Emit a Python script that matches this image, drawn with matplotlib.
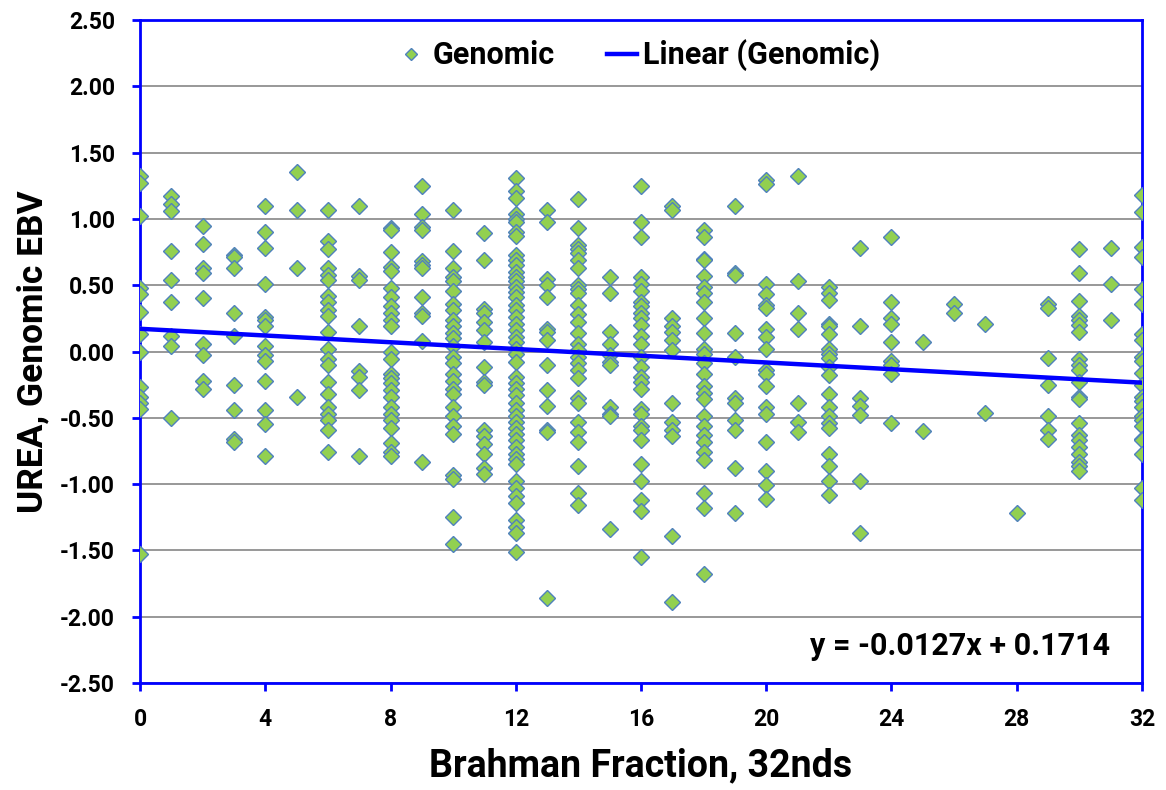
import matplotlib
matplotlib.use('Agg')
import matplotlib.pyplot as plt
import numpy as np

plt.rcParams['font.family'] = ['Roboto', 'DejaVu Sans']
plt.rcParams['font.weight'] = 'bold'
plt.rcParams['axes.unicode_minus'] = False

# Genomic EBV values for each Brahman fraction (32nds)
ebv = {
    0: [1.32, 1.27, 1.02, 0.48, 0.43, 0.30, 0.13, 0.00, -0.27, -0.34, -0.39, -0.43, -1.53],
    1: [1.17, 1.11, 1.06, 0.76, 0.54, 0.37, 0.12, 0.04, -0.50],
    2: [0.95, 0.81, 0.63, 0.59, 0.40, 0.06, -0.03, -0.22, -0.28],
    3: [0.73, 0.71, 0.63, 0.29, 0.12, -0.25, -0.44, -0.66, -0.68],
    4: [1.10, 0.90, 0.78, 0.51, 0.26, 0.24, 0.19, 0.04, -0.03, -0.07, -0.22, -0.44, -0.55, -0.79],
    5: [1.35, 1.07, 0.63, -0.34],
    6: [1.07, 0.83, 0.77, 0.63, 0.58, 0.54, 0.42, 0.37, 0.31, 0.27, 0.15, 0.02, -0.06, -0.10,
        -0.23, -0.32, -0.42, -0.47, -0.52, -0.59, -0.76],
    7: [1.10, 0.57, 0.54, 0.19, -0.15, -0.19, -0.29, -0.79],
    8: [0.93, 0.92, 0.75, 0.64, 0.61, 0.48, 0.41, 0.34, 0.29, 0.24, 0.19, 0.00, -0.06, -0.17,
        -0.20, -0.24, -0.29, -0.34, -0.42, -0.47, -0.52, -0.58, -0.69, -0.76, -0.79],
    9: [1.25, 1.04, 0.94, 0.92, 0.68, 0.65, 0.63, 0.41, 0.29, 0.27, 0.08, -0.83],
    10: [1.07, 0.76, 0.63, 0.56, 0.53, 0.46, 0.36, 0.31, 0.24, 0.19, 0.14, 0.10, 0.04, -0.04,
         -0.09, -0.17, -0.22, -0.28, -0.32, -0.42, -0.49, -0.56, -0.62, -0.93, -0.96, -1.25, -1.45],
    11: [0.89, 0.69, 0.32, 0.29, 0.22, 0.16, 0.07, -0.12, -0.23, -0.25, -0.59, -0.64, -0.70,
         -0.77, -0.88, -0.92],
    12: [1.31, 1.21, 1.16, 1.04, 1.00, 0.98, 0.90, 0.87, 0.73, 0.69, 0.65, 0.60, 0.56, 0.53,
         0.49, 0.45, 0.41, 0.35, 0.31, 0.26, 0.21, 0.16, 0.11, 0.07, 0.02, -0.02, -0.08, -0.19,
         -0.24, -0.28, -0.33, -0.39, -0.44, -0.49, -0.53, -0.58, -0.62, -0.67, -0.72, -0.77,
         -0.81, -0.85, -0.98, -1.03, -1.09, -1.14, -1.27, -1.32, -1.37, -1.51],
    13: [1.07, 0.98, 0.55, 0.50, 0.41, 0.17, 0.15, 0.09, -0.10, -0.29, -0.41, -0.59, -0.61, -1.86],
    14: [1.15, 0.93, 0.80, 0.77, 0.74, 0.69, 0.63, 0.50, 0.47, 0.44, 0.35, 0.28, 0.22, 0.14,
         0.06, 0.01, -0.04, -0.09, -0.14, -0.20, -0.35, -0.39, -0.53, -0.61, -0.68, -0.86,
         -1.07, -1.16],
    15: [0.56, 0.44, 0.15, 0.06, -0.03, -0.08, -0.10, -0.42, -0.47, -0.49, -1.34],
    16: [1.25, 0.98, 0.86, 0.56, 0.51, 0.46, 0.37, 0.34, 0.29, 0.25, 0.20, 0.12, 0.06, -0.04,
         -0.12, -0.19, -0.23, -0.28, -0.43, -0.47, -0.56, -0.59, -0.67, -0.85, -0.98, -1.12,
         -1.20, -1.55],
    17: [1.10, 1.07, 0.25, 0.19, 0.15, 0.09, 0.01, -0.39, -0.53, -0.59, -0.64, -1.39, -1.89],
    18: [0.92, 0.86, 0.70, 0.69, 0.57, 0.49, 0.44, 0.37, 0.25, 0.14, 0.02, -0.02, -0.09, -0.17,
         -0.26, -0.31, -0.36, -0.49, -0.56, -0.63, -0.68, -0.76, -0.82, -1.07, -1.18, -1.68],
    19: [1.10, 0.59, 0.58, 0.14, -0.04, -0.35, -0.39, -0.52, -0.59, -0.88, -1.22],
    20: [1.29, 1.26, 0.51, 0.43, 0.35, 0.33, 0.17, 0.11, 0.02, -0.14, -0.17, -0.26, -0.42,
         -0.47, -0.68, -0.90, -1.01, -1.11],
    21: [1.32, 0.53, 0.29, 0.17, -0.39, -0.53, -0.61],
    22: [0.49, 0.44, 0.39, 0.21, 0.19, 0.13, 0.02, -0.02, -0.05, -0.12, -0.18, -0.32, -0.42,
         -0.49, -0.54, -0.58, -0.77, -0.86, -0.98, -1.08],
    23: [0.78, 0.19, -0.35, -0.41, -0.48, -0.98, -1.37],
    24: [0.86, 0.37, 0.25, 0.21, 0.07, -0.07, -0.10, -0.17, -0.54],
    25: [0.07, -0.60],
    26: [0.36, 0.29],
    27: [0.21, -0.46],
    28: [-1.22],
    29: [0.36, 0.33, -0.05, -0.25, -0.49, -0.59, -0.66],
    30: [0.77, 0.59, 0.38, 0.27, 0.24, 0.20, 0.15, -0.06, -0.10, -0.14, -0.23, -0.34, -0.36,
         -0.54, -0.63, -0.67, -0.72, -0.77, -0.83, -0.86, -0.90],
    31: [0.78, 0.51, 0.24],
    32: [1.18, 1.05, 0.79, 0.71, 0.47, 0.36, 0.13, 0.09, -0.04, -0.07, -0.16, -0.25, -0.34,
         -0.37, -0.42, -0.49, -0.52, -0.56, -0.66, -0.67, -0.77, -1.03, -1.12],
}

# trendline from the chart's equation
slope = -0.0127
intercept = 0.1714

x = np.concatenate([[k] * len(v) for k, v in ebv.items()])
y = np.concatenate([v for v in ebv.values()])

fig = plt.figure(figsize=(11.66, 7.90), dpi=100)
ax = fig.add_axes([0.1201, 0.1354, 0.8593, 0.8393])

ax.plot(x, y, linestyle='none', marker='D', markersize=8,
        markerfacecolor='#92D050', markeredgecolor='#4F81BD', markeredgewidth=1.0,
        label='Genomic', zorder=3)

xl = np.array([0, 32])
ax.plot(xl, slope * xl + intercept, color='#0000FF', linewidth=3.2,
        label='Linear (Genomic)', zorder=4)

ax.set_xlim(0, 32)
ax.set_ylim(-2.5, 2.5)
ax.set_xticks(np.arange(0, 33, 4))
ax.set_yticks(np.arange(-2.5, 2.51, 0.5))
ax.set_yticklabels(['%.2f' % v for v in np.arange(-2.5, 2.51, 0.5)])
ax.grid(axis='y', color='#868686', linewidth=1.2)
ax.set_axisbelow(True)

for s in ax.spines.values():
    s.set_color('#0000FF')
    s.set_linewidth(2.0)
ax.tick_params(axis='both', direction='out', length=6, width=2, color='#0000FF',
               labelsize=16.5, pad=12)
for lab in ax.get_xticklabels() + ax.get_yticklabels():
    lab.set_fontweight('bold')

ax.set_xlabel('Brahman Fraction, 32nds', fontsize=27, fontweight='bold', labelpad=12)
ax.set_ylabel('UREA, Genomic EBV', fontsize=25.5, fontweight='bold', labelpad=8)

ax.text(0.968, 0.056, 'y = -0.0127x + 0.1714', transform=ax.transAxes, ha='right',
        va='center', fontsize=22, fontweight='bold')

leg = ax.legend(loc='upper center', bbox_to_anchor=(0.497, 1.012), ncol=2, frameon=False,
                prop={'size': 22, 'weight': 'bold'}, handlelength=1.0, columnspacing=1.7,
                handletextpad=0.2, markerscale=0.75)

fig.savefig('out.png', dpi=100)
